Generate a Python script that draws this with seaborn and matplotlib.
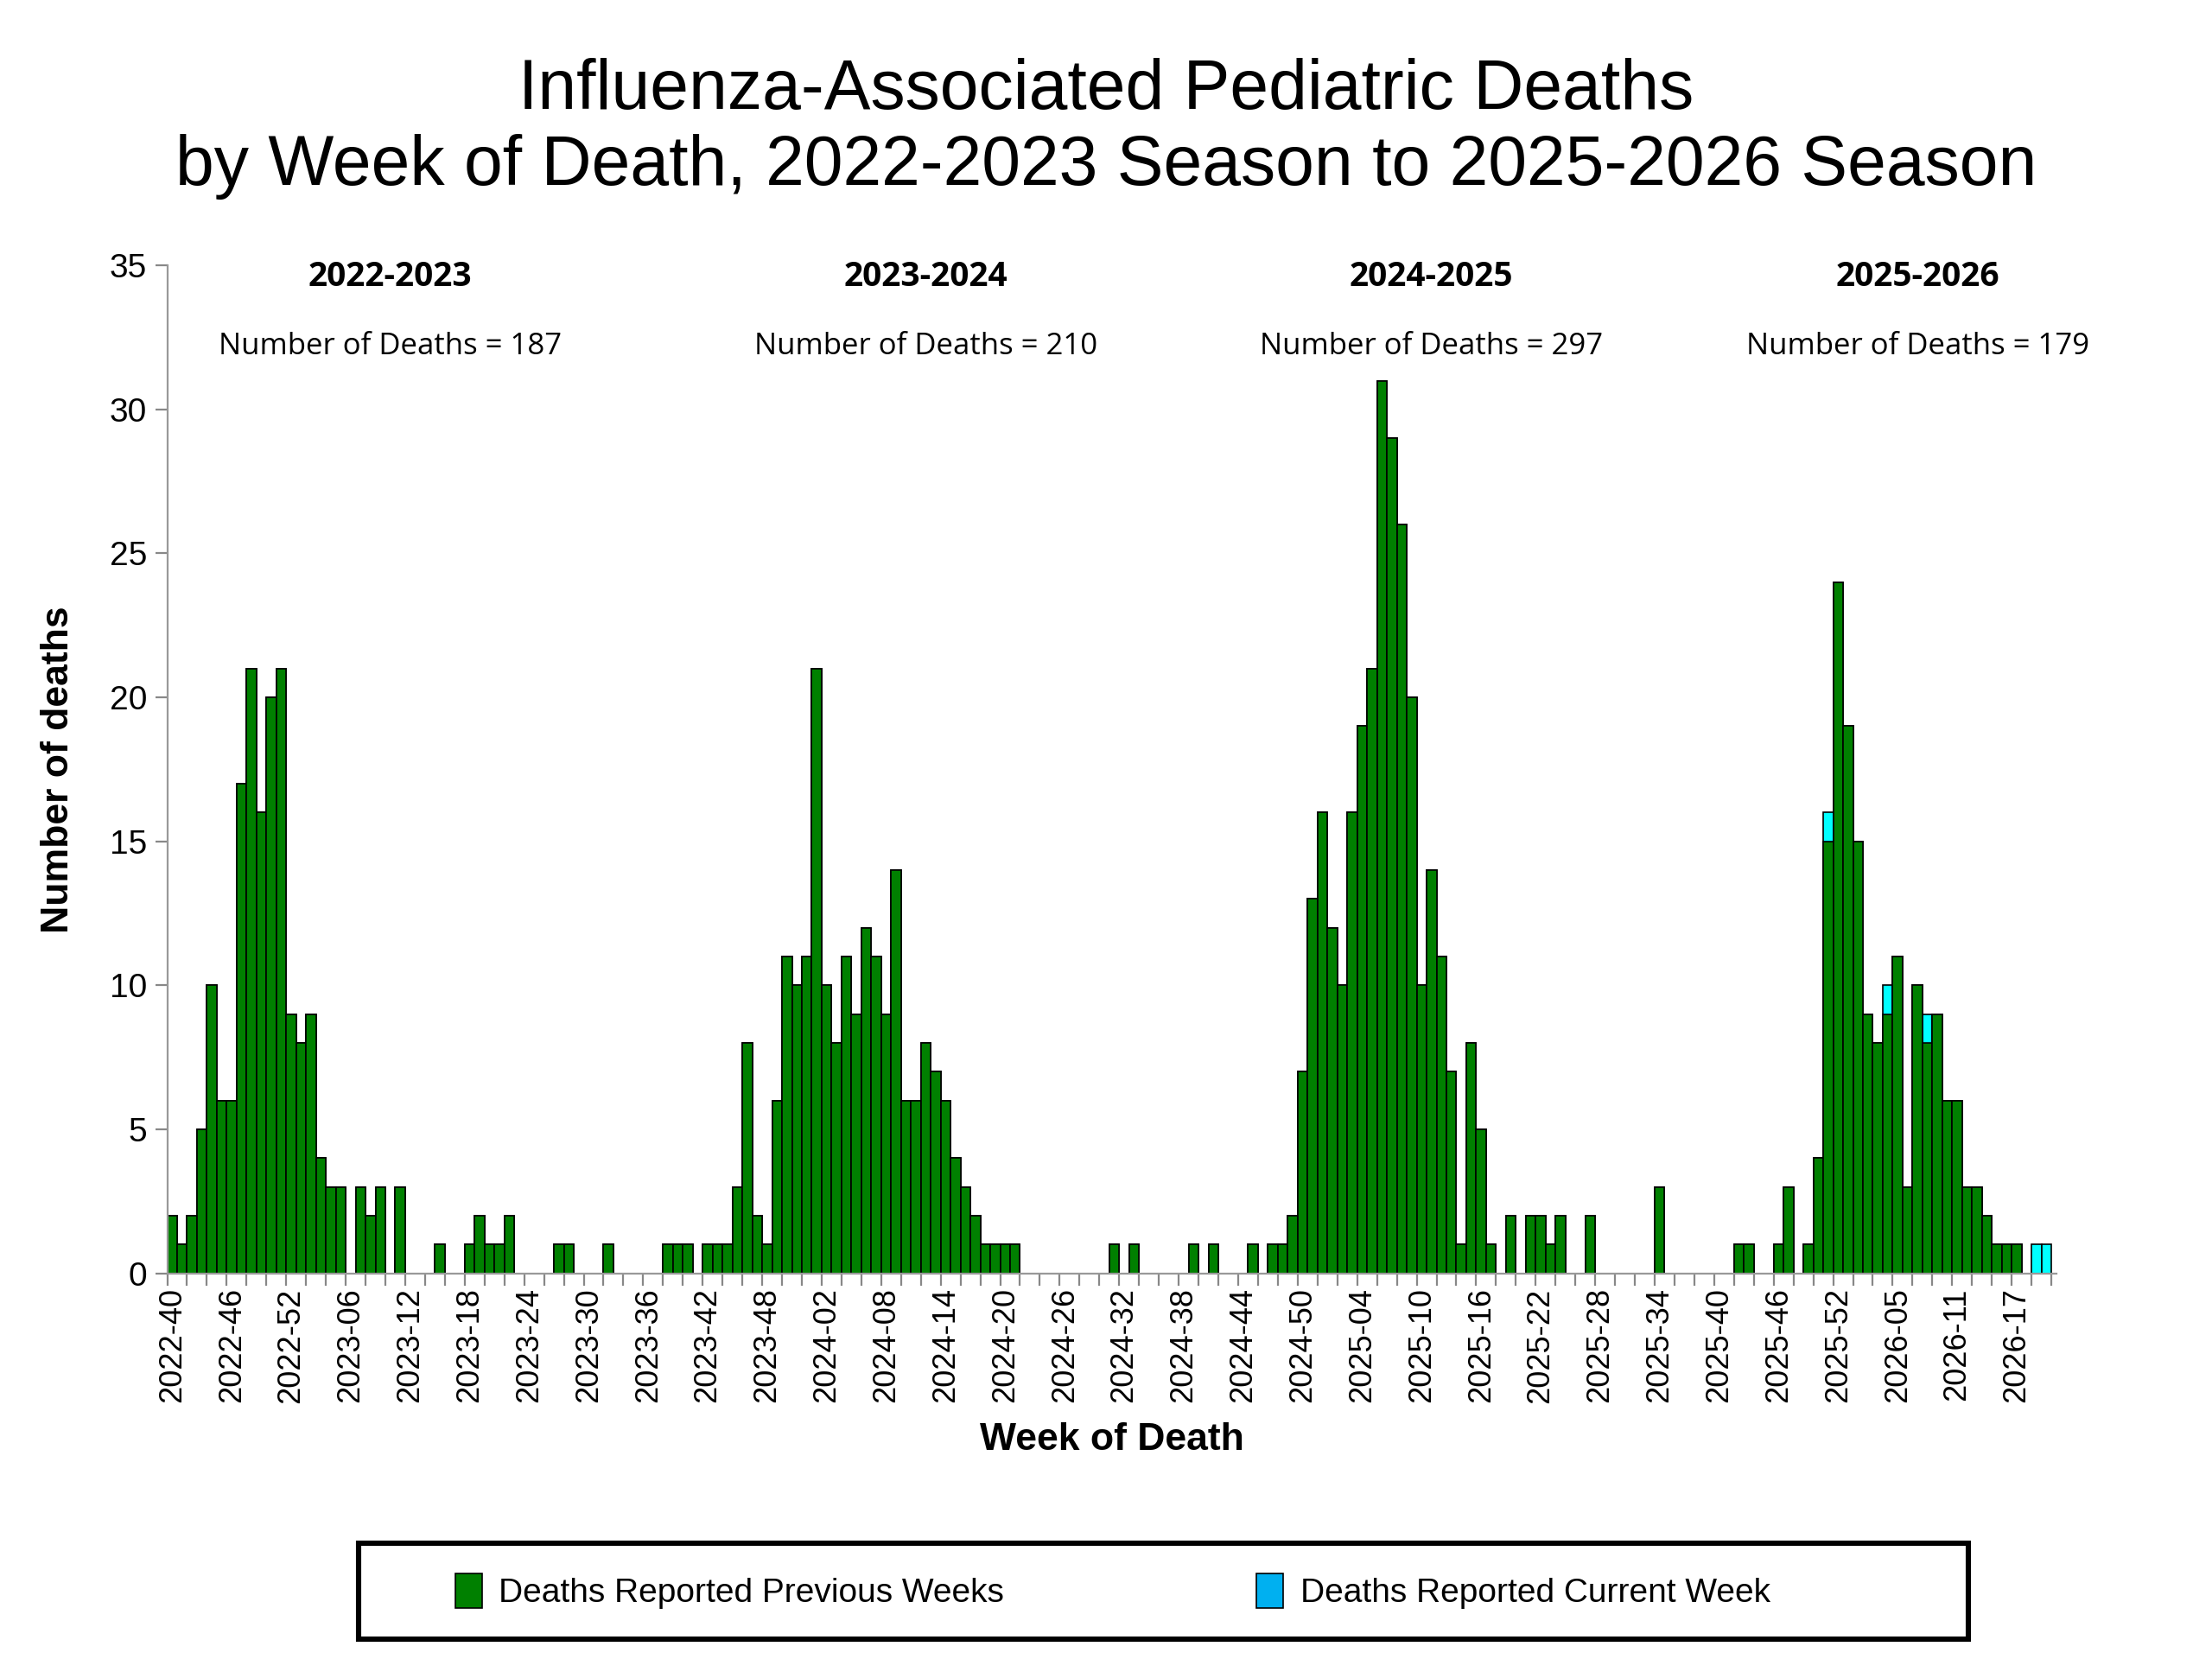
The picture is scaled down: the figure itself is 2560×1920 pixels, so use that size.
import numpy as np
import pandas as pd
import matplotlib
matplotlib.use("Agg")
import matplotlib.pyplot as plt
from matplotlib.patches import Patch, Rectangle
import seaborn as sns

# ---- data ----
season_names = ["2022-2023", "2023-2024", "2024-2025", "2025-2026"]
season_totals = [187, 210, 297, 179]

# week ranges (year, first week, last week)
week_spans = [(2022, 40, 52), (2023, 1, 52), (2024, 1, 52), (2025, 1, 53), (2026, 1, 20)]

prev_2022_23 = [2, 1, 2, 5, 10, 6, 6, 17, 21, 16, 20, 21, 9,
                8, 9, 4, 3, 3, 0, 3, 2, 3, 0, 3, 0, 0, 0, 1, 0, 0, 1, 2, 1,
                1, 2, 0, 0, 0, 0, 1, 1, 0, 0, 0, 1, 0, 0, 0, 0, 0, 1, 1]
prev_2023_24 = [1, 0, 1, 1, 1, 3, 8, 2, 1, 6, 11, 10, 11,
                21, 10, 8, 11, 9, 12, 11, 9, 14, 6, 6, 8, 7, 6, 4, 3, 2, 1, 1, 1,
                1, 0, 0, 0, 0, 0, 0, 0, 0, 0, 1, 0, 1, 0, 0, 0, 0, 0, 1]
prev_2024_25 = [0, 1, 0, 0, 0, 1, 0, 1, 1, 2, 7, 13, 16,
                12, 10, 16, 19, 21, 31, 29, 26, 20, 10, 14, 11, 7, 1, 8, 5, 1, 0, 2, 0,
                2, 2, 1, 2, 0, 0, 2, 0, 0, 0, 0, 0, 0, 3, 0, 0, 0, 0, 0]
prev_2025_26 = [0, 0, 1, 1, 0, 0, 1, 3, 0, 1, 4, 15, 24, 19,
                15, 9, 8, 9, 11, 3, 10, 8, 9, 6, 6, 3, 3, 2, 1, 1, 1, 0, 0, 0]
curr_2025_26 = [0, 0, 0, 0, 0, 0, 0, 0, 0, 0, 0, 1, 0, 0,
                0, 0, 0, 1, 0, 0, 0, 1, 0, 0, 0, 0, 0, 0, 0, 0, 0, 0, 1, 1]

weeks = [f"{y}-{w:02d}" for (y, a, b) in week_spans for w in range(a, b + 1)]
previous = prev_2022_23 + prev_2023_24 + prev_2024_25 + prev_2025_26
current = [0] * (len(prev_2022_23) + len(prev_2023_24) + len(prev_2024_25)) + curr_2025_26
df = pd.DataFrame({"week": weeks, "previous": previous, "current": current})
df["total"] = df["previous"] + df["current"]

season_label_x = [22, 76, 127, 176]

# ---- plot ----
sns.set_theme(style="ticks")
plt.rcParams["font.family"] = ["Liberation Sans", "DejaVu Sans"]
plt.rcParams["text.color"] = "black"
plt.rcParams["axes.labelcolor"] = "black"
plt.rcParams["xtick.labelcolor"] = "black"
plt.rcParams["ytick.labelcolor"] = "black"

GREEN = "#008000"
CYAN = "#00FFFF"

fig = plt.figure(figsize=(12.8, 9.6), dpi=200)
ax = fig.add_axes([0.0756, 0.2325, 0.854, 0.6075])

sns.barplot(data=df, x="week", y="total", order=weeks, color=CYAN, width=1.0,
            edgecolor="black", linewidth=0.6, saturation=1, ax=ax)
sns.barplot(data=df, x="week", y="previous", order=weeks, color=GREEN, width=1.0,
            edgecolor="black", linewidth=0.6, saturation=1, ax=ax)

n = len(weeks)
ax.set_xlim(-0.5, n)
ax.set_ylim(0, 35)
ax.set_yticks(range(0, 36, 5))
ax.set_xticks(range(0, n, 6))
ax.set_xticklabels(weeks[::6], rotation=90, fontsize=13)
ax.set_xticks(np.arange(-0.5, n, 2), minor=True)
ax.tick_params(axis="x", which="major", length=0, pad=6)
ax.tick_params(axis="x", which="minor", length=5, color="#888888", width=0.8)
ax.tick_params(axis="y", labelsize=14, length=5, color="#888888", width=0.8)
for s in ["top", "right"]:
    ax.spines[s].set_visible(False)
for s in ["left", "bottom"]:
    ax.spines[s].set_color("#999999")
    ax.spines[s].set_linewidth(0.8)

ax.set_xlabel("Week of Death", fontsize=16, fontweight="bold", labelpad=8)
ax.set_ylabel("Number of deaths", fontsize=16, fontweight="bold", labelpad=14)

for name, tot, x in zip(season_names, season_totals, season_label_x):
    ax.text(x, 34.6, name, ha="center", va="center", fontsize=14, fontweight="bold",
            family=["Open Sans", "DejaVu Sans"],
            bbox=dict(facecolor="white", edgecolor="none", pad=1))
    ax.text(x, 32.2, f"Number of Deaths = {tot}", ha="center", va="center", fontsize=12.5,
            family=["Open Sans", "DejaVu Sans"],
            bbox=dict(facecolor="white", edgecolor="none", pad=3))

fig.suptitle("Influenza-Associated Pediatric Deaths\nby Week of Death, 2022-2023 Season to 2025-2026 Season",
             y=0.965, fontsize=29, linespacing=1.2, color="black")

# legend box
fig.patches.append(Rectangle((0.162, 0.012), 0.728, 0.058, transform=fig.transFigure,
                             facecolor="white", edgecolor="black", linewidth=2.2))
handles = [Patch(facecolor=GREEN, edgecolor="black", linewidth=0.6),
           Patch(facecolor="#00B0F0", edgecolor="black", linewidth=0.6)]
leg = fig.legend(handles, ["Deaths Reported Previous Weeks", "Deaths Reported Current Week"],
                 loc="center", bbox_to_anchor=(0.503, 0.041),
                 ncol=2, fontsize=14, frameon=False, columnspacing=7.5,
                 handlelength=0.8, handleheight=1.2, handletextpad=0.5)

fig.savefig("out.png", dpi=200, facecolor="white")
